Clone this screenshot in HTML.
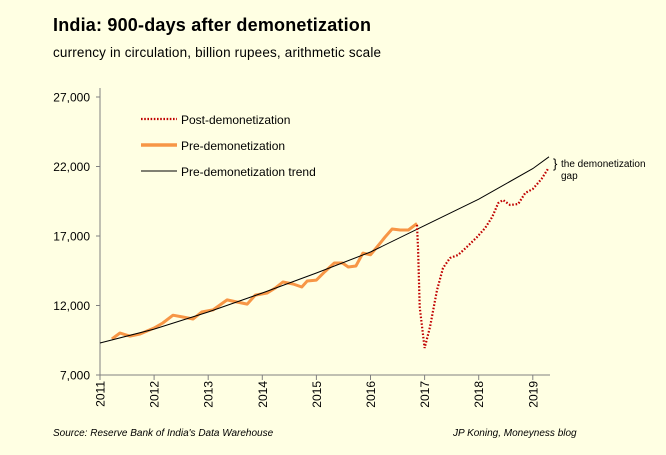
<!DOCTYPE html>
<html><head><meta charset="utf-8"><style>
body{margin:0;background:#ffffe3;}
svg{display:block;font-family:"Liberation Sans",sans-serif;}
</style></head><body>
<svg width="666" height="455" viewBox="0 0 666 455">
<rect width="666" height="455" fill="#ffffe3"/>
<text x="53" y="31" font-size="18" font-weight="bold" fill="#000" textLength="318">India: 900-days after demonetization</text>
<text x="53" y="57" font-size="13.5" fill="#000" textLength="328">currency in circulation, billion rupees, arithmetic scale</text>
<g id="axes"></g>
<g id="series"></g>
<g>
<line x1="141" y1="119" x2="177" y2="119" stroke="#c00000" stroke-width="2.2" stroke-dasharray="1.6,1.6"/>
<text x="181" y="124" font-size="12">Post-demonetization</text>
<line x1="141" y1="145" x2="177" y2="145" stroke="#f79646" stroke-width="3.5"/>
<text x="181" y="150" font-size="12">Pre-demonetization</text>
<line x1="141" y1="171" x2="177" y2="171" stroke="#000" stroke-width="1"/>
<text x="181" y="176" font-size="12">Pre-demonetization trend</text>
</g>
<text x="553" y="168" font-size="13">}</text>
<text x="561" y="167" font-size="10">the demonetization</text>
<text x="561" y="179" font-size="10">gap</text>
<text x="53" y="436" font-size="10" font-style="italic">Source: Reserve Bank of India's Data Warehouse</text>
<text x="453" y="436" font-size="10" font-style="italic">JP Koning, Moneyness blog</text>
</svg>
<script>
const yTicks=[7000,12000,17000,22000,27000];
const xYears=[2011,2012,2013,2014,2015,2016,2017,2018,2019];
const trendYears=[2011,2012,2013,2014,2015,2016,2017,2018,2019,2019.3];
const trendVals=[9300,10300,11530,12900,14340,15850,17750,19650,21850,22700];
const preYears=[2011.22,2011.37,2011.55,2011.74,2012.0,2012.16,2012.35,2012.53,2012.72,2012.88,2013.09,2013.35,2013.53,2013.72,2013.87,2014.09,2014.24,2014.38,2014.57,2014.73,2014.83,2015.0,2015.15,2015.33,2015.48,2015.59,2015.73,2015.86,2016.0,2016.12,2016.27,2016.4,2016.55,2016.7,2016.86];
const preVals=[9590,10020,9800,9950,10380,10740,11300,11170,11030,11530,11680,12400,12250,12100,12750,12900,13260,13690,13550,13330,13760,13830,14410,15060,15060,14770,14840,15770,15650,16210,16930,17500,17430,17430,17900];
const postYears=[2016.86,2016.88,2016.91,2017.0,2017.1,2017.23,2017.34,2017.47,2017.62,2017.78,2017.97,2018.12,2018.25,2018.36,2018.45,2018.58,2018.73,2018.86,2019.0,2019.16,2019.28];
const postVals=[17800,15990,11890,8940,10450,13110,14700,15420,15630,16210,16930,17580,18370,19370,19590,19230,19300,20090,20380,21100,21820];
const NS='http://www.w3.org/2000/svg';
const xs=y=>100+(y-2011)*54.1;
const ys=v=>375-(v-7000)/20000*278;
function mk(t,a,p){const e=document.createElementNS(NS,t);for(const k in a)e.setAttribute(k,a[k]);p.appendChild(e);return e;}
const ax=document.getElementById('axes');
const yAxis=mk('line',{x1:100,y1:88,x2:100,y2:375,stroke:'#808080'},ax);


const xAxis=mk('line',{x1:100,y1:375,x2:550,y2:375,stroke:'#808080'},ax);


yTicks.forEach(v=>{
  const tk=mk('line',{x1:96,y1:ys(v),x2:100,y2:ys(v),stroke:'#808080'},ax);
  
  
  const t=mk('text',{x:90,y:ys(v)+4.5,'font-size':12,'text-anchor':'end'},ax);
  t.textContent=v.toLocaleString('en-US');
  
  
});
xYears.forEach(yr=>{
  const x=xs(yr);
  const tk=mk('line',{x1:x,y1:375,x2:x,y2:380,stroke:'#808080'},ax);
  
  
  const t=mk('text',{x:0,y:0,'font-size':12,'text-anchor':'end',transform:`translate(${x+4.5},381) rotate(-90)`},ax);
  t.textContent=yr;
  
  
});
const sg=document.getElementById('series');
const pts=(a,b)=>a.map((y,i)=>xs(y).toFixed(1)+','+ys(b[i]).toFixed(1)).join(' ');
const pre=mk('polyline',{points:pts(preYears,preVals),fill:'none',stroke:'#f79646','stroke-width':3,'stroke-linejoin':'round'},sg);


const tr=mk('polyline',{points:pts(trendYears,trendVals),fill:'none',stroke:'#000','stroke-width':1},sg);


const post=mk('polyline',{points:pts(postYears,postVals),fill:'none',stroke:'#c00000','stroke-width':2.2,'stroke-dasharray':'1.6,1.8'},sg);


</script>
</body></html>
